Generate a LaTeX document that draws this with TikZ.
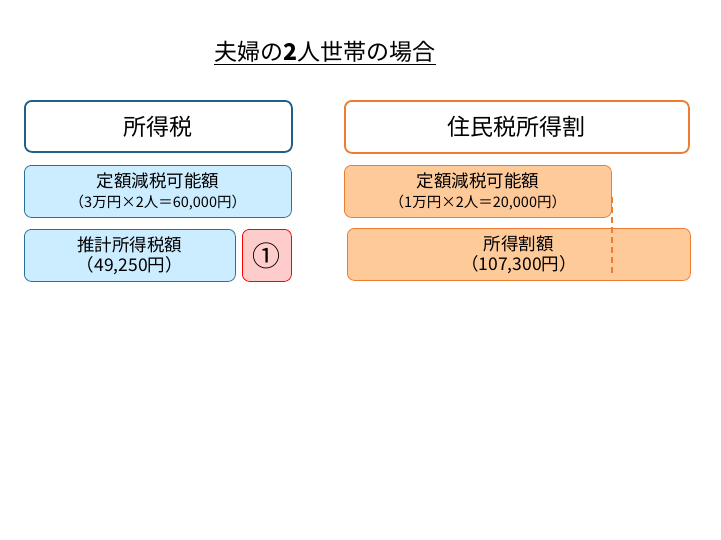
\documentclass[tikz,border=0pt]{standalone}
\usepackage{fontspec}
\setmainfont{Noto Sans CJK JP}
\usetikzlibrary{positioning}
\definecolor{taxblue}{HTML}{1F6088}
\definecolor{lightblue}{HTML}{CCECFF}
\definecolor{lineblue}{HTML}{2E6F96}
\definecolor{juorange}{HTML}{ED7D31}
\definecolor{lightorange}{HTML}{FFCA99}
\definecolor{pinkfill}{HTML}{FFCCCC}
\tikzset{
    x=1pt, y=-1pt,
    every node/.style={anchor=north west, inner sep=0pt, align=center},
    headbox/.style={draw, line width=1.8pt, rounded corners=7pt, fill=white,
        font=\fontsize{23}{27}\selectfont},
    itembox/.style={draw, line width=0.8pt, rounded corners=7pt,
        font=\fontsize{17.5}{20}\selectfont},
    taxitem/.style={itembox, draw=lineblue, fill=lightblue},
    juitem/.style={itembox, draw=juorange, fill=lightorange}
}
\begin{document}
\begin{tikzpicture}
    \useasboundingbox (0,0) rectangle (721,539);

    \node[anchor=center, font=\fontsize{23}{27}\selectfont] (title) at (325,53) {\underline{夫婦の\textbf{2}人世帯の場合}};

    \node[headbox, draw=taxblue, minimum width=267pt, minimum height=51pt] (shotokuzei) at (24,100) {所得税};
    \node[headbox, draw=juorange, minimum width=344pt, minimum height=52pt] (juminzei) at (344,100) {住民税所得割};

    \node[taxitem, minimum width=267pt, minimum height=52pt] (zgen) at (24,165) {定額減税可能額\\{\fontsize{14.5}{17}\selectfont （3万円×2人＝60,000円）}};
    \node[taxitem, minimum width=211pt, minimum height=52pt] (suikei) at (24,229) {推計所得税額\\（49,250円）};
    \node[itembox, draw=red, fill=pinkfill, minimum width=49pt, minimum height=52pt,
          font=\fontsize{28}{32}\selectfont] (maru) at (242,229) {①};

    \node[juitem, minimum width=267pt, minimum height=52pt] (jgen) at (344,165) {定額減税可能額\\{\fontsize{14.5}{17}\selectfont （1万円×2人＝20,000円）}};
    \node[juitem, minimum width=343pt, minimum height=52pt] (shotokuwari) at (347,228) {所得割額\\（107,300円）};

    \coordinate (dtop) at ([yshift=-6pt]jgen.east);
    \coordinate (dbot) at ([yshift=5pt]shotokuwari.south -| jgen.east);
    \draw[juorange, line width=1.5pt, dash pattern=on 6pt off 4pt] (dtop) -- (dbot);
\end{tikzpicture}
\end{document}
